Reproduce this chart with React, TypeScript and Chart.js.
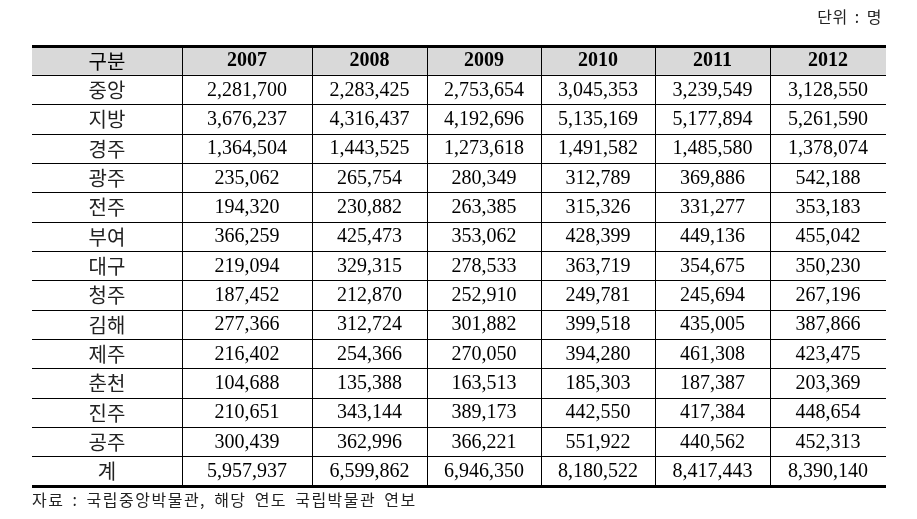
import { useEffect, useRef } from "react";
import { Chart, registerables } from "chart.js";

Chart.register(...registerables);

const headerLabel = "구분";
const unitLabel = "단위 : 명";
const sourceLabel = "자료 : 국립중앙박물관, 해당 연도 국립박물관 연보";

const years = ["2007", "2008", "2009", "2010", "2011", "2012"];
const museums = ["중앙", "지방", "경주", "광주", "전주", "부여", "대구", "청주", "김해", "제주", "춘천", "진주", "공주", "계"];

const v2007 = [2281700, 3676237, 1364504, 235062, 194320, 366259, 219094, 187452, 277366, 216402, 104688, 210651, 300439, 5957937];
const v2008 = [2283425, 4316437, 1443525, 265754, 230882, 425473, 329315, 212870, 312724, 254366, 135388, 343144, 362996, 6599862];
const v2009 = [2753654, 4192696, 1273618, 280349, 263385, 353062, 278533, 252910, 301882, 270050, 163513, 389173, 366221, 6946350];
const v2010 = [3045353, 5135169, 1491582, 312789, 315326, 428399, 363719, 249781, 399518, 394280, 185303, 442550, 551922, 8180522];
const v2011 = [3239549, 5177894, 1485580, 369886, 331277, 449136, 354675, 245694, 435005, 461308, 187387, 417384, 440562, 8417443];
const v2012 = [3128550, 5261590, 1378074, 542188, 353183, 455042, 350230, 267196, 387866, 423475, 203369, 448654, 452313, 8390140];

const series = [v2007, v2008, v2009, v2010, v2011, v2012];

// layout (column widths in px units of the x scale)
const colWidths = [150, 130, 115, 114, 114, 115, 116];
const totalWidth = colWidths.reduce((a, b) => a + b, 0);
const colEdges = colWidths.reduce((acc: number[], w) => { acc.push(acc[acc.length - 1] + w); return acc; }, [0]);

const SERIF = '"Liberation Serif", "Times New Roman", serif';
const KR = '"Noto Sans CJK KR", sans-serif';

const tablePlugin = {
  id: "tablePlugin",
  afterDraw(chart: any) {
    const { ctx } = chart;
    const xs = chart.scales.x;
    const ys = chart.scales.y;
    const nRows = museums.length + 1;
    const X = (v: number) => xs.getPixelForValue(v);
    const Y = (v: number) => ys.getPixelForValue(v);
    const left = X(0);
    const right = X(totalWidth);
    const top = Y(0);
    const bottom = Y(nRows);

    ctx.save();
    // header background
    ctx.fillStyle = "#d9d9d9";
    ctx.fillRect(left, top, right - left, Y(1) - top);

    // horizontal lines
    ctx.strokeStyle = "#000";
    for (let r = 1; r < nRows; r++) {
      const y = Math.round(Y(r)) + 0.5;
      ctx.lineWidth = 1;
      ctx.beginPath();
      ctx.moveTo(left, y);
      ctx.lineTo(right, y);
      ctx.stroke();
    }
    ctx.lineWidth = 3;
    [top, bottom].forEach((yy) => {
      const y = Math.round(yy) + 0.5;
      ctx.beginPath();
      ctx.moveTo(left, y);
      ctx.lineTo(right, y);
      ctx.stroke();
    });
    // vertical lines
    ctx.lineWidth = 1;
    for (let c = 1; c < colEdges.length - 1; c++) {
      const x = Math.round(X(colEdges[c])) + 0.5;
      ctx.beginPath();
      ctx.moveTo(x, top);
      ctx.lineTo(x, bottom);
      ctx.stroke();
    }

    // text
    ctx.fillStyle = "#000";
    ctx.textAlign = "center";
    ctx.textBaseline = "middle";
    const cx = (c: number) => (X(colEdges[c]) + X(colEdges[c + 1])) / 2;
    const cy = (r: number) => (Y(r) + Y(r + 1)) / 2 + 1;

    ctx.font = `20px ${KR}`;
    ctx.fillText(headerLabel, cx(0), cy(0));
    ctx.font = `bold 20px ${SERIF}`;
    years.forEach((yr, i) => ctx.fillText(yr, cx(i + 1), cy(0)));

    museums.forEach((m, r) => {
      ctx.font = `20px ${KR}`;
      ctx.fillStyle = "#222";
      ctx.fillText(m, cx(0), cy(r + 1));
      ctx.fillStyle = "#000";
      ctx.font = `20px ${SERIF}`;
      series.forEach((vals, c) => {
        ctx.fillText(vals[r].toLocaleString("en-US"), cx(c + 1), cy(r + 1));
      });
    });

    // unit & source
    ctx.font = `16px ${KR}`;
    ctx.fillStyle = "#222";
    try {
      ctx.letterSpacing = "0.5px";
      ctx.wordSpacing = "3px";
    } catch (e) {}
    ctx.textAlign = "right";
    ctx.fillText(unitLabel, right - 4, 17);
    try {
      ctx.letterSpacing = "1.5px";
      ctx.wordSpacing = "3px";
    } catch (e) {}
    ctx.textAlign = "left";
    ctx.fillText(sourceLabel, left, 500);
    ctx.restore();
  },
};

export default function App() {
  const ref = useRef<HTMLCanvasElement | null>(null);
  useEffect(() => {
    if (!ref.current) return;
    const chart = new Chart(ref.current, {
      type: "scatter",
      data: { datasets: [] },
      options: {
        animation: false,
        responsive: false,
        layout: { padding: { left: 32, right: 917 - 32 - totalWidth, top: 45.5, bottom: 33.5 } },
        scales: {
          x: { type: "linear", min: 0, max: totalWidth, display: false },
          y: { type: "linear", min: 0, max: museums.length + 1, reverse: true, display: false },
        },
        plugins: { legend: { display: false }, tooltip: { enabled: false } },
      },
      plugins: [tablePlugin],
    });
    return () => chart.destroy();
  }, []);
  return (
    <div style={{ position: "fixed", left: 0, top: 0, width: 917, height: 519, background: "#fff" }}>
      <canvas ref={ref} width={917} height={519} style={{ display: "block" }} />
    </div>
  );
}
